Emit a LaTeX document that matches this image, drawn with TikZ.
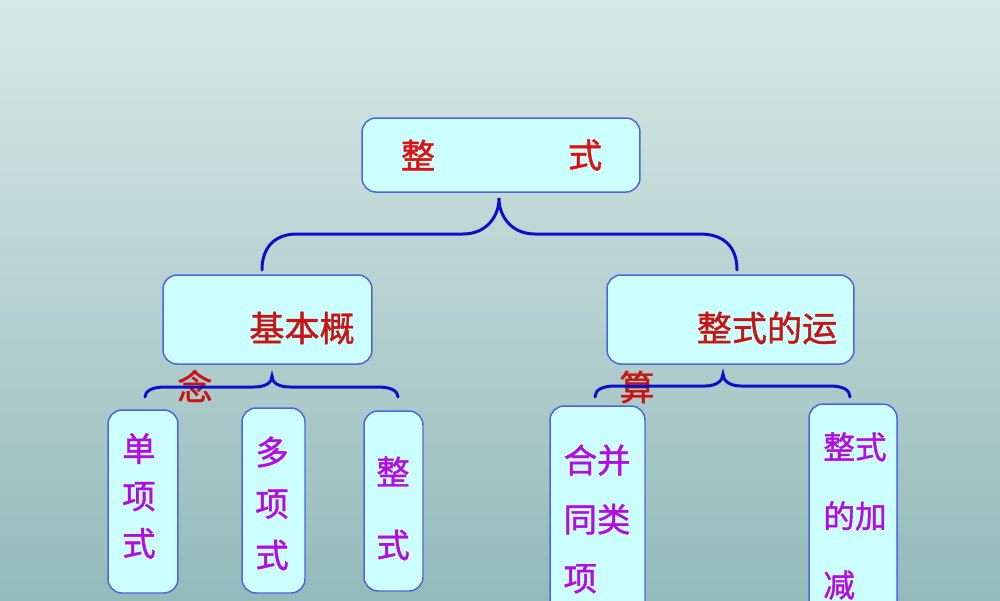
\documentclass[tikz,border=0pt]{standalone}
\usepackage{fontspec}
\newfontfamily\zhfont[FakeBold=1.2]{Noto Sans CJK SC}
\usetikzlibrary{%
  positioning,% wg. " of "
  calc%
}
\definecolor{bgtop}{RGB}{216,233,229}
\definecolor{bgmid}{RGB}{202,216,215}
\definecolor{bgbot}{RGB}{148,186,188}
\definecolor{boxfill}{RGB}{204,255,255}
\definecolor{boxline}{RGB}{80,100,220}
\definecolor{bracecol}{RGB}{15,15,200}
\definecolor{titlered}{RGB}{225,15,15}
\definecolor{headred}{RGB}{200,20,20}
\definecolor{itempurple}{RGB}{180,10,230}

\begin{document}
\begin{tikzpicture}
[x=0.02cm, y=-0.02cm, line width=0.85pt,
box/.style={rectangle, rounded corners=0.28cm, draw=boxline, fill=boxfill, inner sep=0pt},
brace/.style={draw=bracecol, line width=1.7pt, line cap=round},
title/.style={text=titlered, inner sep=0pt, font=\zhfont\fontsize{19.5}{24}\selectfont},
head/.style={text=headred, inner sep=0pt, font=\zhfont\fontsize{20}{24}\selectfont},
item/.style={text=itempurple, inner sep=0pt}]

% background
\clip (0,0) rectangle (1000,600);
\shade[top color=bgtop, middle color=bgmid, bottom color=bgbot] (0,0) rectangle (1000,600);

% boxes
\node[box, minimum width=5.56cm, minimum height=1.48cm] (top) at (501,155) {};
\node[box, minimum width=4.18cm, minimum height=1.78cm] (basic) at (267.5,319.5) {};
\node[box, minimum width=4.94cm, minimum height=1.78cm] (ops) at (730.5,319.5) {};
\node[box, minimum width=1.40cm, minimum height=3.66cm] (mono) at (143,501.5) {};
\node[box, minimum width=1.26cm, minimum height=3.70cm] (poly) at (273.5,500.5) {};
\node[box, minimum width=1.18cm, minimum height=3.60cm] (whole) at (393.5,501) {};
\node[box, minimum width=1.90cm, minimum height=4.36cm] (like) at (597.5,515) {};
\node[box, minimum width=1.76cm, minimum height=4.42cm] (addsub) at (853,514.5) {};

% texts
\node[title] (topA) at (418,155) {整};
\node[title] (topB) at (585,155) {式};

\node[head] (basicA) at (302,328) {基本概};
\node[head] (basicB) at (195,386) {念};
\node[head] (opsA) at (767,328) {整式的运};
\node[head] (opsB) at (637,387) {算};

\node[item, align=center, font=\zhfont\fontsize{19}{27}\selectfont] (monoT) at (139,496) {单\\项\\式};
\node[item, align=center, font=\zhfont\fontsize{19}{29.3}\selectfont] (polyT) at (272,503.5) {多\\项\\式};
\node[item, align=center, font=\zhfont\fontsize{19}{41.5}\selectfont] (wholeT) at (393,508.5) {整\\式};
\node[item, align=left, font=\zhfont\fontsize{19}{33.6}\selectfont] (likeT) at (597,519) {合并\\同类\\项};
\node[item, align=left, font=\zhfont\fontsize{18}{39.3}\selectfont] (addsubT) at (855,516) {整式\\的加\\减};

% braces
\draw[brace] (262,270) .. controls (262,246) and (276,234) .. (297,234) -- (463,234)
  .. controls (486,234) and (499,217) .. (499,198)
  .. controls (499,217) and (512,234) .. (535,234) -- (700,234)
  .. controls (723,234) and (737,246) .. (737,270);
\draw[brace] (145,397) .. controls (145,391) and (152,387) .. (165,387) -- (254,387)
  .. controls (265,387) and (272,383) .. (272,376)
  .. controls (272,383) and (279,387) .. (290,387) -- (378,387)
  .. controls (391,387) and (398,391) .. (398,397);
\draw[brace] (595,397) .. controls (595,390) and (602,386) .. (615,386) -- (705,386)
  .. controls (716,386) and (723,381) .. (723,374)
  .. controls (723,381) and (730,386) .. (741,386) -- (830,386)
  .. controls (843,386) and (850,390) .. (850,397);
\end{tikzpicture}
\end{document}
